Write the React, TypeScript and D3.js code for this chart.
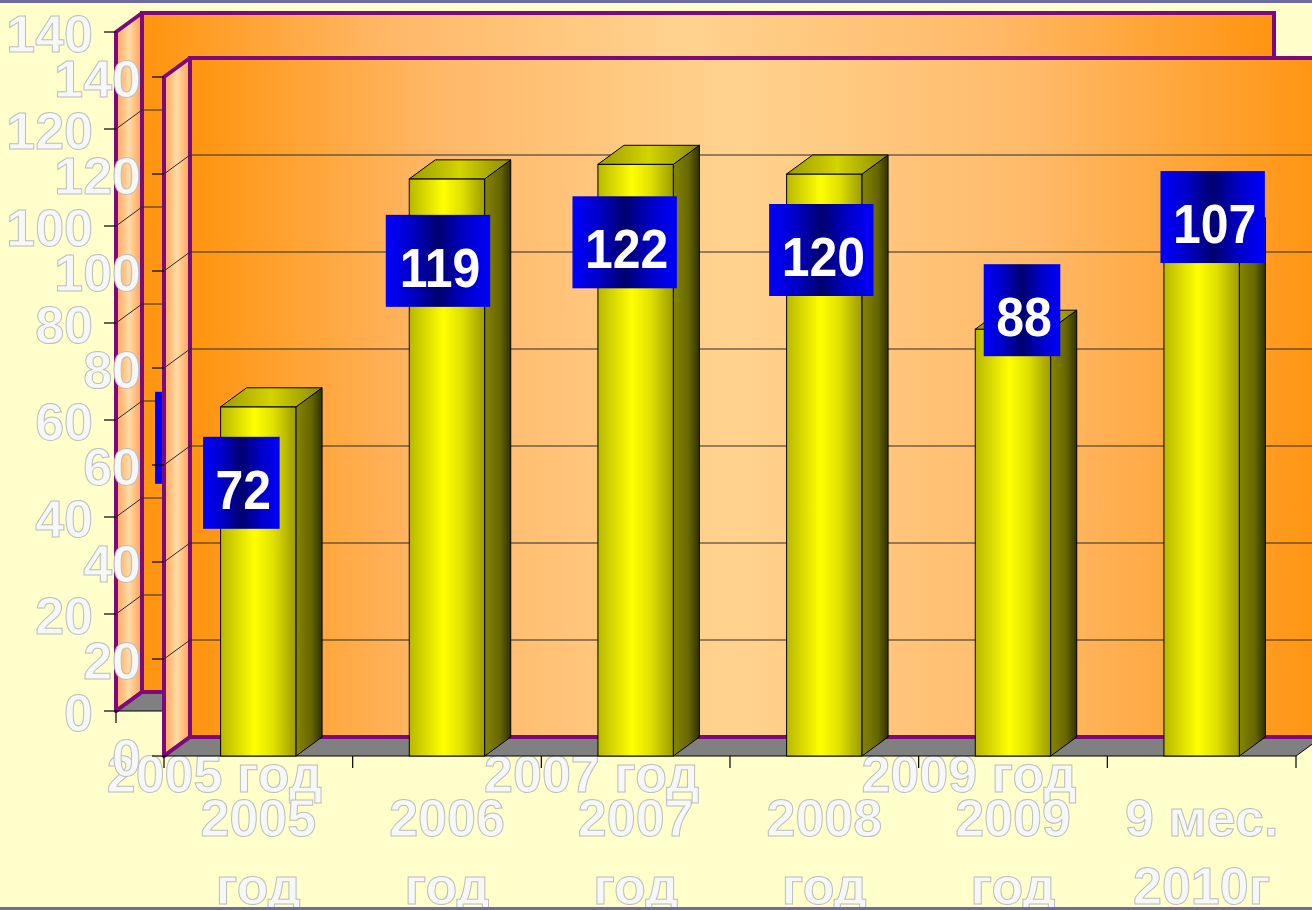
import React, { useEffect, useRef } from "react";
import * as d3 from "d3";

// chart data
const categories = ["2005 год", "2006 год", "2007 год", "2008 год", "2009 год", "9 мес. 2010г"];
const categoryLines = [
  ["2005", "год"],
  ["2006", "год"],
  ["2007", "год"],
  ["2008", "год"],
  ["2009", "год"],
  ["9 мес.", "2010г"],
];
const values = [72, 119, 122, 120, 88, 107];
const yTicks = [0, 20, 40, 60, 80, 100, 120, 140];

// hand placed value boxes (offset of the box centre from the bar top centre)
const labelNudge = [
  [-17, 76],
  [-9, 82],
  [-11, 78],
  [-3, 76],
  [9, -19],
  [11, -20],
];

const W = 1312;
const H = 910;
const PURPLE = "#7C0A7C";
const FONT = "'Liberation Sans', Arial, sans-serif";

const X0 = 164;
const X1 = 1296;
const Y0 = 756;
const Y1 = 77;
const DX = 26;
const DY = 19;

type G = d3.Selection<SVGGElement, unknown, null, undefined>;

function addGradient(defs: any, id: string, stops: [number, string][]) {
  const lg = defs.append("linearGradient").attr("id", id)
    .attr("x1", "0").attr("y1", "0").attr("x2", "1").attr("y2", "0");
  stops.forEach(([o, c]) => lg.append("stop").attr("offset", o).attr("stop-color", c));
}

function outlinedText(g: G, x: number, y: number, txt: string, anchor: string) {
  g.append("text")
    .attr("x", x)
    .attr("y", y)
    .attr("text-anchor", anchor)
    .style("font-family", FONT)
    .style("font-size", "52px")
    .style("font-weight", "bold")
    .style("fill", "#f7f7f7")
    .style("stroke", "#bdbdbd")
    .style("stroke-width", 1)
    .text(txt);
}

function drawChart(g: G, multiline: boolean, every: number) {
  const x = d3.scaleBand<string>()
    .domain(categories)
    .range([X0, X1])
    .paddingInner(0.6)
    .paddingOuter(0.3);
  const y = d3.scaleLinear().domain([0, 140]).range([Y0, Y1]);
  const step = x.step();
  const bw = x.bandwidth();
  const xStart = X0;
  const xEnd = X0 + step * categories.length;

  // back wall
  g.append("rect")
    .attr("x", xStart + DX).attr("y", Y1 - DY)
    .attr("width", xEnd - xStart).attr("height", Y0 - Y1)
    .style("fill", "url(#wallGrad)")
    .style("stroke", PURPLE).style("stroke-width", 4);

  // left wall
  g.append("polygon")
    .attr("points", [[xStart, Y1], [xStart + DX, Y1 - DY], [xStart + DX, Y0 - DY], [xStart, Y0]].join(" "))
    .style("fill", "url(#sideWallGrad)")
    .style("stroke", PURPLE).style("stroke-width", 4).style("stroke-linejoin", "round");

  // floor
  g.append("polygon")
    .attr("points", [[xStart, Y0], [xStart + DX, Y0 - DY], [xEnd + DX, Y0 - DY], [xEnd, Y0]].join(" "))
    .style("fill", "#808080");
  g.append("line")
    .attr("x1", xStart + DX).attr("x2", xEnd + DX)
    .attr("y1", Y0 - DY).attr("y2", Y0 - DY)
    .style("stroke", PURPLE).style("stroke-width", 4);
  g.append("line")
    .attr("x1", xStart).attr("y1", Y0).attr("x2", xStart + DX).attr("y2", Y0 - DY)
    .style("stroke", PURPLE).style("stroke-width", 4);
  g.append("line")
    .attr("x1", xEnd).attr("y1", Y0).attr("x2", xEnd + DX).attr("y2", Y0 - DY)
    .style("stroke", "#000").style("stroke-width", 1);

  // gridlines
  const inner = yTicks.filter(t => t > 0 && t < 140);
  g.selectAll(null).data(inner).join("line")
    .attr("x1", xStart + DX).attr("x2", xEnd + DX)
    .attr("y1", d => y(d) - DY).attr("y2", d => y(d) - DY)
    .style("stroke", "#2a2a2a").style("stroke-width", 1);
  g.selectAll(null).data(inner).join("line")
    .attr("x1", xStart).attr("x2", xStart + DX)
    .attr("y1", d => y(d)).attr("y2", d => y(d) - DY)
    .style("stroke", "#2a2a2a").style("stroke-width", 1);

  // y axis ticks + labels
  g.selectAll(null).data(yTicks).join("line")
    .attr("x1", xStart - 12).attr("x2", xStart)
    .attr("y1", d => y(d)).attr("y2", d => y(d))
    .style("stroke", "#000").style("stroke-width", 1.2);
  yTicks.forEach(t => outlinedText(g, xStart - 23, y(t) + 20, String(t), "end"));

  // x axis
  g.append("line")
    .attr("x1", xStart).attr("x2", xEnd).attr("y1", Y0).attr("y2", Y0)
    .style("stroke", "#000").style("stroke-width", 1.2);
  g.selectAll(null).data(d3.range(categories.length + 1)).join("line")
    .attr("x1", i => xStart + i * step).attr("x2", i => xStart + i * step)
    .attr("y1", Y0).attr("y2", Y0 + 12)
    .style("stroke", "#000").style("stroke-width", 1.2);

  // bars
  const bars = g.selectAll(null).data(values).join("g");
  bars.append("rect")
    .attr("x", (d, i) => x(categories[i])!)
    .attr("y", d => y(d))
    .attr("width", bw)
    .attr("height", d => Y0 - y(d))
    .style("fill", "url(#barFront)")
    .style("stroke", "#000").style("stroke-width", 1);
  bars.append("polygon")
    .attr("points", (d, i) => {
      const xr = x(categories[i])! + bw;
      return [[xr, y(d)], [xr + DX, y(d) - DY], [xr + DX, Y0 - DY], [xr, Y0]].join(" ");
    })
    .style("fill", "url(#barSide)")
    .style("stroke", "#000").style("stroke-width", 1);
  bars.append("polygon")
    .attr("points", (d, i) => {
      const xl = x(categories[i])!;
      return [[xl, y(d)], [xl + DX, y(d) - DY], [xl + bw + DX, y(d) - DY], [xl + bw, y(d)]].join(" ");
    })
    .style("fill", "url(#barTop)")
    .style("stroke", "#000").style("stroke-width", 1);

  // value boxes
  values.forEach((v, i) => {
    const cx = x(categories[i])! + bw / 2 + labelNudge[i][0];
    const cy = y(v) + labelNudge[i][1];
    const bwBox = 21 + String(v).length * 27.8;
    g.append("rect")
      .attr("x", cx - bwBox / 2).attr("y", cy - 46)
      .attr("width", bwBox).attr("height", 92)
      .style("fill", "url(#boxGrad)");
    g.append("text")
      .attr("transform", `translate(${cx + 2},${cy + 26}) scale(1,1.12)`)
      .attr("text-anchor", "middle")
      .style("font-family", FONT)
      .style("font-size", "50px")
      .style("font-weight", "bold")
      .style("fill", "#ffffff")
      .text(String(v));
  });

  // category labels
  categories.forEach((c, i) => {
    if (i % every !== 0) return;
    const cx = x(c)! + bw / 2;
    if (multiline) {
      outlinedText(g, cx, 836, categoryLines[i][0], "middle");
      outlinedText(g, cx, 904, categoryLines[i][1], "middle");
    } else {
      outlinedText(g, cx + 4, 837, c, "middle");
    }
  });
}

export default function App() {
  const svgRef = useRef<SVGSVGElement>(null);

  useEffect(() => {
    const svg = d3.select(svgRef.current);
    svg.selectAll("*").remove();

    const defs = svg.append("defs");
    addGradient(defs, "wallGrad", [[0, "#FF940E"], [0.22, "#FFB868"], [0.48, "#FFD38F"], [0.75, "#FFB968"], [1, "#FF9410"]]);
    addGradient(defs, "sideWallGrad", [[0, "#FFA457"], [0.5, "#FFDCA8"], [1, "#FFA050"]]);
    addGradient(defs, "barFront", [[0, "#B8B800"], [0.45, "#FFFF00"], [0.7, "#E0E000"], [1, "#9C9C00"]]);
    addGradient(defs, "barSide", [[0, "#858500"], [0.6, "#666600"], [1, "#303000"]]);
    addGradient(defs, "barTop", [[0, "#9A9A00"], [0.5, "#D4D400"], [1, "#8A8A00"]]);
    addGradient(defs, "boxGrad", [[0, "#0000FF"], [0.25, "#0000C8"], [0.5, "#000070"], [0.75, "#0000C8"], [1, "#0000FF"]]);

    svg.append("rect").attr("width", W).attr("height", H).style("fill", "#FFFFCC");

    const back = svg.append("g").attr("transform", "translate(-48,-45)") as unknown as G;
    drawChart(back, false, 2);

    const front = svg.append("g") as unknown as G;
    drawChart(front, true, 1);

    // slide frame lines
    svg.append("rect").attr("x", 0).attr("y", 0).attr("width", W).attr("height", 3).style("fill", "#6C6CA2");
    svg.append("rect").attr("x", 0).attr("y", H - 3).attr("width", W).attr("height", 3).style("fill", "#6C6CA2");
  }, []);

  return (
    <svg
      ref={svgRef}
      width={W}
      height={H}
      style={{ position: "absolute", left: 0, top: 0, display: "block" }}
    />
  );
}
